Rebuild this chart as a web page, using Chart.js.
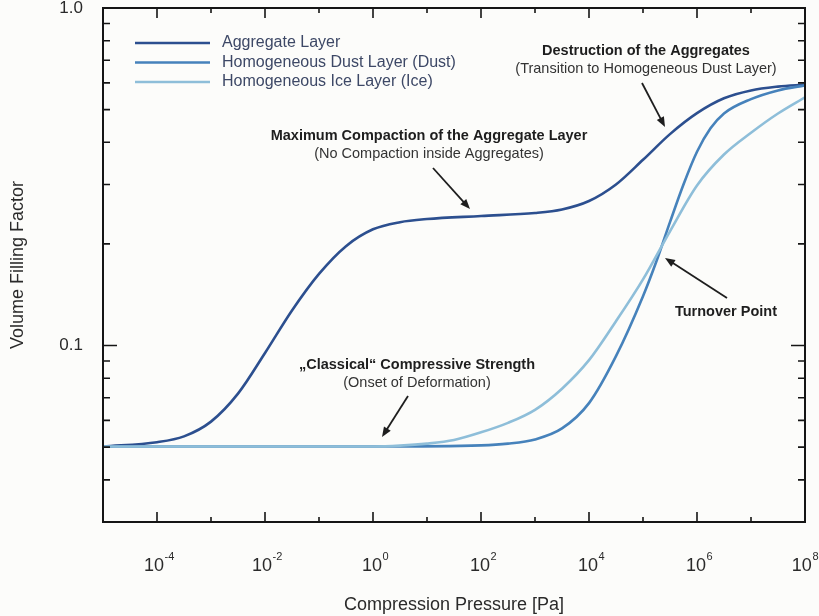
<!DOCTYPE html>
<html>
<head>
<meta charset="utf-8">
<script src="https://cdn.jsdelivr.net/npm/chart.js@4.4.1/dist/chart.umd.min.js"></script>
<style>
  html, body { margin: 0; padding: 0; background: #fcfcfa; }
  canvas { display: block; }
</style>
</head>
<body>
<canvas id="myChart" width="819" height="616"></canvas>
<script>
// values
const pressureAgg = [1e-5, 1e-4, 3.16e-4, 1e-3, 3.16e-3, 1e-2, 3.16e-2, 0.1, 0.316, 1, 3.16, 10, 100, 1000, 3162, 1e4, 3.16e4, 1e5, 3.16e5, 1e6, 3.16e6, 1e7, 3.16e7, 1e8];
const phiAgg = [0.0502, 0.0517, 0.0538, 0.0595, 0.072, 0.095, 0.127, 0.163, 0.197, 0.221, 0.232, 0.237, 0.242, 0.247, 0.253, 0.268, 0.300, 0.355, 0.423, 0.488, 0.540, 0.570, 0.585, 0.593];

const pressureDust = [1e-5, 1, 100, 316, 1000, 3162, 1e4, 3.16e4, 1e5, 1.78e5, 3.16e5, 5.62e5, 1e6, 1.78e6, 3.16e6, 1e7, 3.16e7, 1e8];
const phiDust = [0.0502, 0.0502, 0.0506, 0.0512, 0.0527, 0.0568, 0.0675, 0.093, 0.140, 0.178, 0.232, 0.300, 0.375, 0.440, 0.487, 0.537, 0.570, 0.590];

const pressureIce = [1e-5, 1, 3.16, 10, 31.6, 100, 316, 1000, 3162, 1e4, 3.16e4, 1e5, 3.16e5, 1e6, 3.16e6, 1e7, 3.16e7, 1e8];
const phiIce = [0.0502, 0.0502, 0.0505, 0.0512, 0.0525, 0.0553, 0.059, 0.0645, 0.0745, 0.0905, 0.118, 0.157, 0.218, 0.298, 0.368, 0.427, 0.487, 0.544];

const seriesNames = ['Aggregate Layer', 'Homogeneous Dust Layer (Dust)', 'Homogeneous Ice Layer (Ice)'];

const xTickValues = [1e-5, 1e-4, 1e-3, 1e-2, 1e-1, 1, 10, 100, 1e3, 1e4, 1e5, 1e6, 1e7, 1e8];
const xTickExponents = ['', '-4', '', '-2', '', '0', '', '2', '', '4', '', '6', '', '8'];
const yTickValues = [0.03, 0.04, 0.05, 0.06, 0.07, 0.08, 0.09, 0.1, 0.2, 0.3, 0.4, 0.5, 0.6, 0.7, 0.8, 0.9, 1.0];
const yTickLabels = ['', '', '', '', '', '', '', '0.1', '', '', '', '', '', '', '', '', '1.0'];

const FONT = '"Liberation Sans", Arial, Helvetica, sans-serif';
Chart.defaults.font.family = FONT;
Chart.defaults.color = '#2a2a2a';

function pts(px, py) {
    return px.map((p, i) => ({x: p, y: py[i]}));
}

function arrow(ctx, x1, y1, x2, y2) {
    const ang = Math.atan2(y2 - y1, x2 - x1);
    const head = 10, w = 4;
    ctx.beginPath();
    ctx.moveTo(x1, y1);
    ctx.lineTo(x2 - Math.cos(ang) * head * 0.8, y2 - Math.sin(ang) * head * 0.8);
    ctx.stroke();
    ctx.beginPath();
    ctx.moveTo(x2, y2);
    ctx.lineTo(x2 - Math.cos(ang) * head + Math.sin(ang) * w, y2 - Math.sin(ang) * head - Math.cos(ang) * w);
    ctx.lineTo(x2 - Math.cos(ang) * head - Math.sin(ang) * w, y2 - Math.sin(ang) * head + Math.cos(ang) * w);
    ctx.closePath();
    ctx.fill();
}

const notes = [
    {bold: 'Maximum Compaction of the Aggregate Layer', sub: '(No Compaction inside Aggregates)', x: 429, y: 136, from: [433, 168], to: [470, 209]},
    {bold: 'Destruction of the Aggregates', sub: '(Transition to Homogeneous Dust Layer)', x: 646, y: 51, from: [642, 83], to: [665, 127]},
    {bold: '\u201EClassical\u201C Compressive Strength', sub: '(Onset of Deformation)', x: 417, y: 365, from: [408, 396], to: [382, 437]},
    {bold: 'Turnover Point', sub: '', x: 726, y: 312, from: [727, 298], to: [665, 258]}
];

const decor = {
    id: 'decor',
    beforeDraw(chart) {
        const ctx = chart.ctx;
        ctx.save();
        ctx.fillStyle = '#fcfcfa';
        ctx.fillRect(0, 0, chart.width, chart.height);
        ctx.restore();
    },
    afterDatasetsDraw(chart) {
        const {ctx, chartArea: a, scales: {x, y}} = chart;
        ctx.save();
        ctx.strokeStyle = '#151515';
        ctx.lineWidth = 1.6;
        // inward ticks
        x.ticks.forEach((t, i) => {
            const px = x.getPixelForValue(t.value);
            const len = xTickExponents[i] ? 10 : 5;
            ctx.beginPath();
            ctx.moveTo(px, a.bottom); ctx.lineTo(px, a.bottom - len);
            ctx.moveTo(px, a.top); ctx.lineTo(px, a.top + len);
            ctx.stroke();
        });
        y.ticks.forEach((t, i) => {
            const py = y.getPixelForValue(t.value);
            const len = yTickLabels[i] ? 14 : 7;
            ctx.beginPath();
            ctx.moveTo(a.left, py); ctx.lineTo(a.left + len, py);
            ctx.moveTo(a.right, py); ctx.lineTo(a.right - len, py);
            ctx.stroke();
        });
        ctx.lineWidth = 2;
        ctx.strokeRect(a.left, a.top, a.right - a.left, a.bottom - a.top);

        // x tick labels with raised exponents
        ctx.fillStyle = '#2a2a2a';
        ctx.textBaseline = 'alphabetic';
        ctx.textAlign = 'left';
        x.ticks.forEach((t, i) => {
            const e = xTickExponents[i];
            if (!e) return;
            const px = x.getPixelForValue(t.value);
            ctx.font = '18px ' + FONT;
            const w1 = ctx.measureText('10').width;
            ctx.font = '11px ' + FONT;
            const w2 = ctx.measureText(e).width;
            let sx = px - (w1 + w2) / 2 + 2;
            if (sx + w1 + w2 > chart.width - 1) sx = chart.width - 1 - w1 - w2;
            ctx.font = '18px ' + FONT;
            ctx.fillText('10', sx, 571);
            ctx.font = '11px ' + FONT;
            ctx.fillText(e, sx + w1 + 0.5, 560);
        });

        // legend
        ctx.font = '16px ' + FONT;
        ctx.textBaseline = 'middle';
        chart.data.datasets.forEach((ds, i) => {
            const ly = 43 + i * 19.5;
            ctx.strokeStyle = ds.borderColor;
            ctx.lineWidth = 2.6;
            ctx.beginPath();
            ctx.moveTo(135, ly); ctx.lineTo(210, ly);
            ctx.stroke();
            ctx.fillStyle = '#3d4866';
            ctx.fillText(ds.label, 222, ly);
        });

        // annotations
        ctx.fillStyle = '#1e1e1e';
        ctx.strokeStyle = '#1e1e1e';
        ctx.textAlign = 'center';
        notes.forEach(n => {
            ctx.font = 'bold 14.5px ' + FONT;
            ctx.fillText(n.bold, n.x, n.y);
            if (n.sub) {
                ctx.font = '14.5px ' + FONT;
                ctx.fillStyle = '#333';
                ctx.fillText(n.sub, n.x, n.y + 18);
                ctx.fillStyle = '#1e1e1e';
            }
            ctx.lineWidth = 1.8;
            arrow(ctx, n.from[0], n.from[1], n.to[0], n.to[1]);
        });
        ctx.restore();
    }
};

const ctx = document.getElementById('myChart').getContext('2d');
const myChart = new Chart(ctx, {
    type: 'line',
    data: {
        datasets: [
            {label: seriesNames[0], data: pts(pressureAgg, phiAgg), borderColor: '#2c4f8f', order: 3},
            {label: seriesNames[1], data: pts(pressureDust, phiDust), borderColor: '#4682bb', order: 2},
            {label: seriesNames[2], data: pts(pressureIce, phiIce), borderColor: '#8ebed9', order: 1}
        ]
    },
    options: {
        responsive: false,
        animation: false,
        elements: {
            point: {radius: 0},
            line: {borderWidth: 2.6, cubicInterpolationMode: 'monotone', fill: false}
        },
        layout: {padding: {top: 8, right: 14, left: 0, bottom: 0}},
        plugins: {legend: {display: false}, tooltip: {enabled: false}},
        scales: {
            x: {
                type: 'logarithmic',
                min: 1e-5,
                max: 1e8,
                bounds: 'data',
                grid: {display: false},
                border: {display: false},
                afterBuildTicks: s => { s.ticks = xTickValues.map(v => ({value: v})); },
                afterFit: s => { s.height = 94; s.paddingLeft = 0; s.paddingRight = 0; },
                ticks: {
                    autoSkip: false,
                    maxRotation: 0,
                    callback: () => ''
                },
                title: {display: true, text: 'Compression Pressure [Pa]', font: {size: 18}, color: '#2a2a2a', padding: {top: 0, bottom: 0}}
            },
            y: {
                type: 'logarithmic',
                min: 0.03,
                max: 1.0,
                bounds: 'data',
                grid: {display: false},
                border: {display: false},
                afterBuildTicks: s => { s.ticks = yTickValues.map(v => ({value: v})); },
                afterFit: s => { s.width = 103; s.paddingTop = 0; s.paddingBottom = 0; },
                ticks: {
                    autoSkip: false,
                    padding: 12,
                    font: {size: 17},
                    color: '#2a2a2a',
                    callback: (v, i) => yTickLabels[i]
                },
                title: {display: true, text: 'Volume Filling Factor', font: {size: 18}, color: '#2a2a2a', padding: {top: 7, bottom: 0}}
            }
        }
    },
    plugins: [decor]
});
</script>
</body>
</html>
